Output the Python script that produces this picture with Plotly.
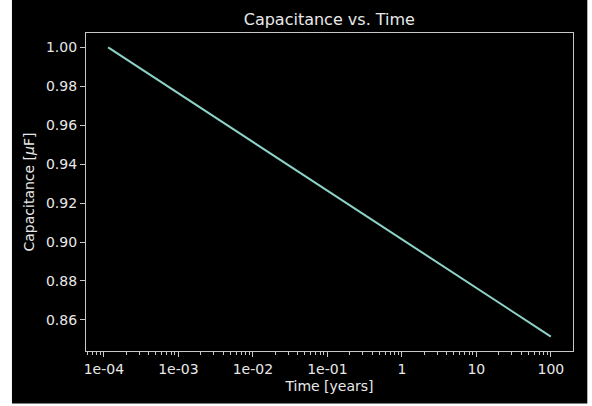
import plotly.graph_objects as go

# Data (time in years, capacitance in µF)
time_years = [1.1416e-4, 1e-3, 1e-2, 1e-1, 1, 10, 100]
capacitance = [1.000, 0.9764, 0.9514, 0.9264, 0.9014, 0.8764, 0.8514]

x_tickvals = [1e-4, 1e-3, 1e-2, 1e-1, 1, 10, 100]
x_ticktext = ["1e-04", "1e-03", "1e-02", "1e-01", "1", "10", "100"]
y_tickvals = [0.86, 0.88, 0.90, 0.92, 0.94, 0.96, 0.98, 1.00]

W, H = 592, 406
L, R, T, B = 86, 572.7, 33.3, 350.7
pw, ph = R - L, B - T

def px_to_paper_x(px):
    return (px - L) / pw

def px_to_paper_y(py):
    return (B - py) / ph

spine = "#c8c8c8"
txt = "#e8e8e8"
font = "DejaVu Sans"

fig = go.Figure()
fig.add_trace(go.Scatter(x=time_years, y=capacitance, mode="lines",
                         line=dict(color="#8dd3c7", width=2), showlegend=False))

fig.add_shape(type="rect", xref="paper", yref="paper",
              x0=px_to_paper_x(12), x1=px_to_paper_x(587),
              y0=px_to_paper_y(403), y1=px_to_paper_y(0),
              fillcolor="black", line=dict(width=0), layer="below")

fig.update_layout(
    width=W, height=H,
    margin=dict(l=L, r=W - R, t=T, b=H - B),
    paper_bgcolor="white", plot_bgcolor="black",
    font=dict(family=font, color=txt, size=14),
    title=dict(text="Capacitance vs. Time", x=(L + R) / 2 / W, xanchor="center",
               y=1 - 19 / H, yanchor="middle", font=dict(size=16, color=txt, family=font)),
)
fig.update_xaxes(type="log", range=[-4.2396, 2.297],
                 tickvals=x_tickvals, ticktext=x_ticktext,
                 ticks="outside", ticklen=5, tickwidth=1, tickcolor=spine,
                 showgrid=False, zeroline=False,
                 showline=True, linecolor=spine, linewidth=1.3, mirror=True,
                 tickfont=dict(size=14, color=txt),
                 minor=dict(ticks="outside", ticklen=3, tickcolor=spine, dtick="D1",
                            tick0=1, showgrid=False),
                 title=dict(text="Time [years]", font=dict(size=14, color=txt), standoff=5))
fig.update_yaxes(range=[0.8440, 1.00743],
                 tickvals=y_tickvals, tickformat=".2f",
                 ticks="outside", ticklen=5, tickwidth=1, tickcolor=spine,
                 showgrid=False, zeroline=False,
                 showline=True, linecolor=spine, linewidth=1.3, mirror=True,
                 tickfont=dict(size=14, color=txt),
                 title=dict(text="Capacitance [<i>μ</i>F]", font=dict(size=14, color=txt), standoff=7))

fig.write_html("out.html")
